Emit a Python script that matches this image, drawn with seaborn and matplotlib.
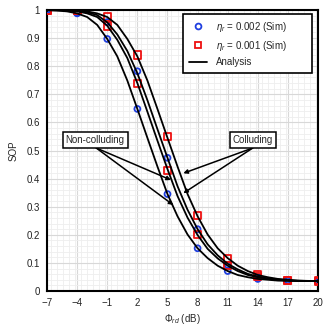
import numpy as np
import pandas as pd
import matplotlib
matplotlib.use("Agg")
import matplotlib.pyplot as plt
import seaborn as sns
from matplotlib.ticker import MultipleLocator

# ========================
# DATA
# ========================
sim_x = [-7, -4, -1, 2, 5, 8, 11, 14, 17, 20]
# eta_r = 0.002 (blue circles): non-colluding, colluding
sim_002_nc = [1.0, 0.988, 0.897, 0.648, 0.345, 0.152, 0.071, 0.043, 0.037, 0.035]
sim_002_c = [1.0, 0.990, 0.957, 0.782, 0.474, 0.220, 0.093, 0.049, 0.038, 0.035]
# eta_r = 0.001 (red squares): non-colluding, colluding
sim_001_nc = [1.0, 0.998, 0.943, 0.738, 0.430, 0.200, 0.090, 0.053, 0.038, 0.035]
sim_001_c = [1.0, 0.999, 0.975, 0.840, 0.549, 0.269, 0.116, 0.060, 0.039, 0.036]

# analysis curves read at every 1 dB
ana_x = list(range(-7, 21))
ana_002_nc = [0.999, 0.998, 0.995, 0.988, 0.975, 0.947, 0.897, 0.835, 0.749, 0.648,
              0.545, 0.443, 0.345, 0.266, 0.201, 0.152, 0.117, 0.090, 0.071, 0.057,
              0.049, 0.043, 0.040, 0.037, 0.036, 0.0356, 0.0353, 0.035]
ana_001_nc = [1.0, 0.999, 0.998, 0.995, 0.988, 0.975, 0.944, 0.894, 0.829, 0.740,
              0.638, 0.535, 0.434, 0.338, 0.261, 0.199, 0.150, 0.116, 0.090, 0.071,
              0.057, 0.049, 0.043, 0.040, 0.037, 0.036, 0.0355, 0.035]
ana_002_c = [1.0, 1.0, 0.999, 0.997, 0.992, 0.982, 0.956, 0.913, 0.854, 0.775,
             0.679, 0.576, 0.474, 0.373, 0.289, 0.220, 0.166, 0.127, 0.097, 0.077,
             0.061, 0.051, 0.045, 0.041, 0.038, 0.0365, 0.0357, 0.0352]
ana_001_c = [1.0, 1.0, 0.999, 0.998, 0.995, 0.988, 0.975, 0.947, 0.897, 0.835,
             0.749, 0.648, 0.545, 0.443, 0.345, 0.266, 0.201, 0.152, 0.117, 0.090,
             0.071, 0.057, 0.049, 0.043, 0.040, 0.037, 0.036, 0.0356]

x_ticks = [-7, -4, -1, 2, 5, 8, 11, 14, 17, 20]
y_ticks = [0, 0.1, 0.2, 0.3, 0.4, 0.5, 0.6, 0.7, 0.8, 0.9, 1]
y_labels = ["0", "0.1", "0.2", "0.3", "0.4", "0.5", "0.6", "0.7", "0.8", "0.9", "1"]

# ========================
# STYLE
# ========================
sns.set_theme(style="white")
plt.rcParams["font.family"] = ["Liberation Sans", "DejaVu Sans"]
plt.rcParams["mathtext.fontset"] = "custom"
plt.rcParams["mathtext.it"] = "Liberation Sans:italic"
plt.rcParams["mathtext.rm"] = "Liberation Sans"

fig = plt.figure(figsize=(3.32, 3.28), dpi=100)
ax = fig.add_axes([0.1416, 0.1128, 0.8164, 0.8567])

# ========================
# PLOT
# ========================
ana = pd.DataFrame({"x": ana_x * 4,
                    "y": ana_002_nc + ana_001_nc + ana_002_c + ana_001_c,
                    "curve": ["a"] * 28 + ["b"] * 28 + ["c"] * 28 + ["d"] * 28})

blue = pd.DataFrame({"x": sim_x * 2, "y": sim_002_nc + sim_002_c})
red = pd.DataFrame({"x": sim_x * 2, "y": sim_001_nc + sim_001_c})

sns.scatterplot(data=blue, x="x", y="y", ax=ax, marker="o", s=18,
                facecolors="none", edgecolor="#1f3fe0", linewidth=1.3, zorder=3)
sns.scatterplot(data=red, x="x", y="y", ax=ax, marker="s", s=26,
                facecolors="none", edgecolor="#ee1111", linewidth=1.3, zorder=3)
sns.lineplot(data=ana, x="x", y="y", units="curve", estimator=None, ax=ax,
             color="black", linewidth=1.3, zorder=4)

# legend handles
ax.plot([], [], "o", mfc="none", mec="#1f3fe0", mew=1.3, ms=4.2,
        label=r"$\eta_r$ = 0.002 (Sim)" + " " * 8)
ax.plot([], [], "s", mfc="none", mec="#ee1111", mew=1.3, ms=4.5,
        label=r"$\eta_r$ = 0.001 (Sim)")
ax.plot([], [], "-", color="black", lw=1.3, label="Analysis")
h, l = ax.get_legend_handles_labels()
leg = ax.legend(h[-3:], l[-3:], loc="upper right", bbox_to_anchor=(0.977, 0.986),
                fontsize=7, frameon=True, fancybox=False, framealpha=1,
                edgecolor="black", borderpad=0.6, labelspacing=0.5,
                handlelength=1.8, handletextpad=0.9, borderaxespad=0)
leg.get_frame().set_linewidth(1.2)
leg.set_zorder(6)

# annotations
ax.text(-2.2, 0.537, "Non-colluding", fontsize=7, ha="center", va="center", zorder=6,
        bbox=dict(boxstyle="square,pad=0.3", fc="white", ec="black", lw=1.1))
ax.text(13.5, 0.537, "Colluding", fontsize=7, ha="center", va="center", zorder=6,
        bbox=dict(boxstyle="square,pad=0.3", fc="white", ec="black", lw=1.1))
arrow = dict(arrowstyle="-|>", color="black", lw=1.1, mutation_scale=6,
             shrinkA=0, shrinkB=0)
for tip in [(5.35, 0.395), (5.58, 0.306)]:
    ax.annotate("", xy=tip, xytext=(-2.1, 0.509), arrowprops=arrow, zorder=5)
for tip in [(6.58, 0.419), (6.58, 0.348)]:
    ax.annotate("", xy=tip, xytext=(13.5, 0.509), arrowprops=arrow, zorder=5)

# ========================
# AXES
# ========================
ax.set_xlim(-7, 20)
ax.set_ylim(0, 1)
ax.set_xticks(x_ticks)
ax.set_yticks(y_ticks)
ax.set_yticklabels(y_labels)
ax.xaxis.set_minor_locator(MultipleLocator(0.6))
ax.yaxis.set_minor_locator(MultipleLocator(0.02))
ax.grid(which="major", color="#d8d8d8", linewidth=0.8, zorder=0)
ax.grid(which="minor", color="#eeeeee", linewidth=0.6, zorder=0)
ax.set_axisbelow(True)
ax.tick_params(which="both", length=0, labelsize=7, colors="#222222")
ax.tick_params(axis="y", pad=5)
ax.tick_params(axis="x", pad=5)
for s in ax.spines.values():
    s.set_color("black")
    s.set_linewidth(1.5)

ax.set_xlabel(r"$\Phi_{rd}$ (dB)", fontsize=7, labelpad=3)
ax.set_ylabel("SOP", fontsize=7, labelpad=6)

fig.savefig("out.png", dpi=100)
